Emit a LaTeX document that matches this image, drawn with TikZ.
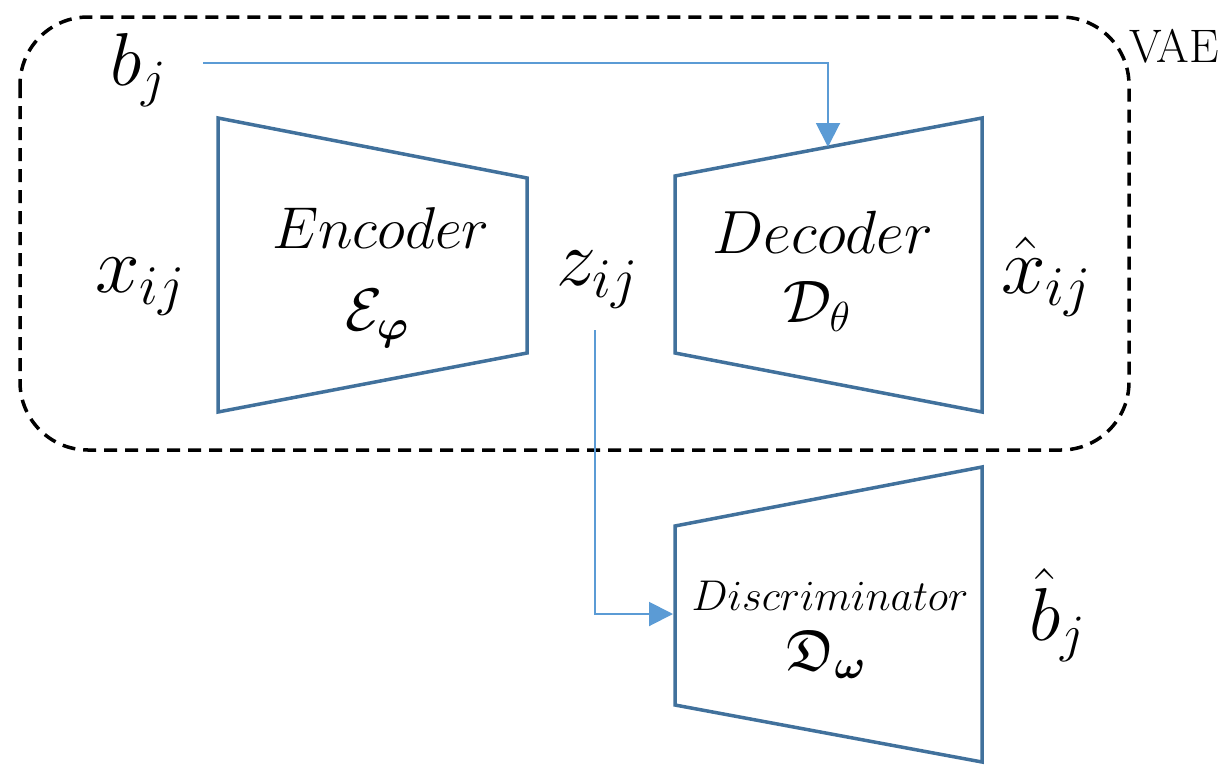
\RequirePackage{fix-cm}
\documentclass[tikz,border=0pt]{standalone}
\usepackage{amsmath,amssymb,bm}
\usetikzlibrary{arrows.meta}
\definecolor{boxblue}{HTML}{41719C}
\definecolor{arrblue}{HTML}{5B9BD5}
\tikzset{
  trap/.style={draw=boxblue, line width=3.5pt, line join=miter},
  conn/.style={draw=arrblue, line width=2pt, -{Triangle[length=24pt,width=24pt]}},
  lbl/.style={inner sep=0pt, anchor=base west},
  ctr/.style={inner sep=0pt, anchor=base},
  vae/.style={draw=black, line width=3.5pt, dash pattern=on 13pt off 8pt, rounded corners=68pt}
}
\newcommand{\fsz}[1]{\fontsize{#1}{#1}\selectfont}
\begin{document}
\begin{tikzpicture}[x=1pt,y=-1pt]
\useasboundingbox (0,0) rectangle (1224,774);
% VAE dashed box
\draw[vae] (20,17) rectangle (1129,450);
\node[ctr, scale=1.12] (vaelbl) at (1174,62) {\fsz{42}VAE};
% Encoder
\coordinate (e1) at (218,118); \coordinate (e2) at (527,178);
\coordinate (e3) at (527,353); \coordinate (e4) at (218,412);
\draw[trap] (e1) -- (e2) -- (e3) -- (e4) -- cycle;
% Decoder
\coordinate (d1) at (675,176); \coordinate (d2) at (982,118);
\coordinate (d3) at (982,412); \coordinate (d4) at (675,353);
\draw[trap] (d1) -- (d2) -- (d3) -- (d4) -- cycle;
% Discriminator
\coordinate (c1) at (675,526); \coordinate (c2) at (982,467);
\coordinate (c3) at (982,762); \coordinate (c4) at (675,705);
\draw[trap] (c1) -- (c2) -- (c3) -- (c4) -- cycle;
% labels
\node[lbl] (bj) at (110,85) {\fsz{75}$b_j$};
\node[lbl] (xij) at (95,292) {\fsz{80}$x_{ij}$};
\node[lbl] (zij) at (556,285) {\fsz{80}$z_{ij}$};
\node[lbl] (xhat) at (1001,293) {\fsz{80}$\hat{x}_{ij}$};
\node[lbl] (bhat) at (1029,640) {\fsz{75}$\hat{b}_j$};
\node[ctr] (enc) at (381,248) {\fsz{59}$Encoder$};
\node[ctr] (encm) at (377,330) {\fsz{60}$\mathcal{E}_{\bm{\varphi}}$};
\node[ctr] (dec) at (823,253) {\fsz{61}$Decoder$};
\node[ctr] (decm) at (817,322) {\fsz{60}$\mathcal{D}_{\theta}$};
\node[ctr] (dis) at (830,610) {\fsz{43}$Discriminator$};
\node[ctr] (dism) at (826,670) {\fsz{58}$\mathfrak{D}_{\bm{\omega}}$};
% connectors
\coordinate (bjout) at (203,63);
\coordinate (dectop) at (828,147);
\coordinate (zout) at (595,330);
\coordinate (disin) at (673,614);
\draw[conn] (bjout) -| (dectop);
\draw[conn] (zout) |- (disin);
\end{tikzpicture}
\end{document}
